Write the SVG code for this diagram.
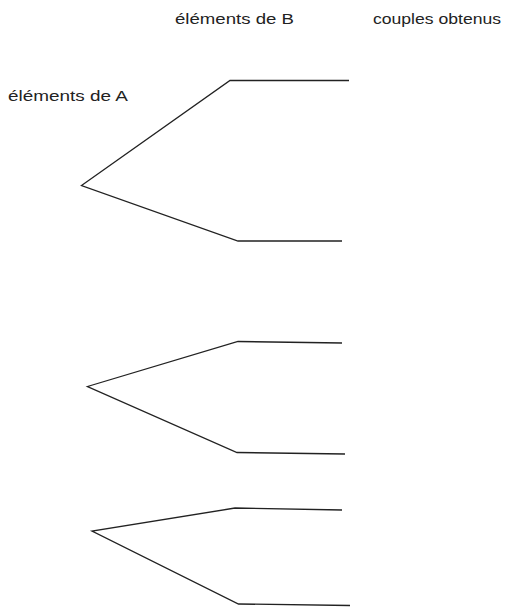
<svg xmlns="http://www.w3.org/2000/svg" width="510" height="607" viewBox="0 0 510 607">
<style>
text{font-family:"Liberation Sans",Arial,sans-serif;font-size:15px;fill:#222}
.br{fill:none;stroke:#222;stroke-width:1.3;stroke-linejoin:miter}
</style>
<rect width="510" height="607" fill="#fff"/>
<g id="labels">
<text x="175" y="24" textLength="119" lengthAdjust="spacingAndGlyphs">éléments de B</text>
<text x="373" y="24" textLength="128" lengthAdjust="spacingAndGlyphs">couples obtenus</text>
<text x="8" y="101" textLength="120" lengthAdjust="spacingAndGlyphs">éléments de A</text>
</g>
<g id="connectors">
<g id="tree1">
<polyline class="br" points="349,80.5 230,80.5 81.5,185.5 238,241 342,241"/>
</g>
<g id="tree2">
<polyline class="br" points="342,343 238,341.5 87.5,386.5 237,452.5 345,454"/>
</g>
<g id="tree3">
<polyline class="br" points="342,510 235,508 92,531 238.5,604 350,605.5"/>
</g>
</g>
</svg>
